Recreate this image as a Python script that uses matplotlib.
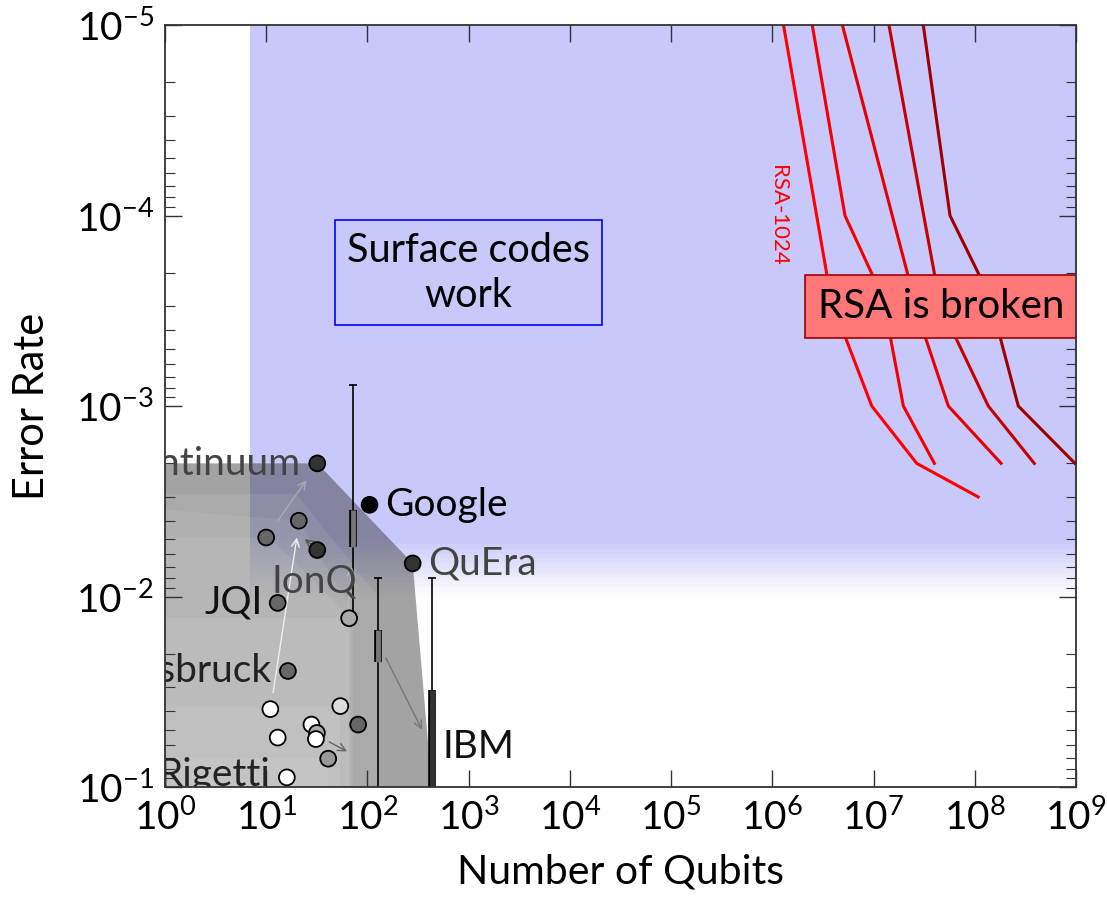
"""Quantum hardware progress vs. the qubit/error budget needed to break RSA."""
import matplotlib
matplotlib.use("Agg")
import matplotlib.patheffects as pe
import matplotlib.pyplot as plt

plt.rcParams["font.family"] = ["Lato", "DejaVu Sans"]
plt.rcParams["mathtext.fontset"] = "custom"
plt.rcParams["mathtext.rm"] = "Lato"
plt.rcParams["mathtext.it"] = "Lato:italic"

# --- data -----------------------------------------------------------------
X_TICKS = [1e0, 1e1, 1e2, 1e3, 1e4, 1e5, 1e6, 1e7, 1e8, 1e9]
X_TICK_LABELS = ["$10^{0}$", "$10^{1}$", "$10^{2}$", "$10^{3}$", "$10^{4}$",
                 "$10^{5}$", "$10^{6}$", "$10^{7}$", "$10^{8}$", "$10^{9}$"]
Y_TICKS = [1e-5, 1e-4, 1e-3, 1e-2, 1e-1]
Y_TICK_LABELS = ["$10^{-5}$", "$10^{-4}$", "$10^{-3}$", "$10^{-2}$", "$10^{-1}$"]

# region where surface codes work
SURFACE_MIN_QUBITS = 7
SURFACE_THRESHOLD = 5e-3
SURFACE_FADE_END = 1e-2

# device data points (qubits, error rate, fill colour)
DEV_QUBITS = [32, 105, 280, 10, 21, 32, 13, 66, 16.4, 11, 54, 81, 28, 31.7, 31, 13, 41, 16]
DEV_ERRORS = [2e-3, 3.3e-3, 6.7e-3, 4.9e-3, 4.0e-3, 5.7e-3, 1.08e-2, 1.3e-2, 2.46e-2,
              3.9e-2, 3.76e-2, 4.7e-2, 4.7e-2, 5.2e-2, 5.6e-2, 5.5e-2, 7.1e-2, 8.9e-2]
DEV_COLORS = ["#333333", "#000000", "#333333", "#666666", "#666666", "#333333",
              "#666666", "#aaaaaa", "#666666", "#ffffff", "#dddddd", "#666666",
              "#ffffff", "#aaaaaa", "#ffffff", "#ffffff", "#999999", "#ffffff"]

# company labels: anchor point and text colour
LABELS = ["Quantinuum", "Google", "QuEra", "IonQ", "JQI", "Innsbruck", "Rigetti", "IBM"]
LABEL_QUBITS = [32, 105, 280, 32, 13, 16.4, 16, 433]
LABEL_ERRORS = [2e-3, 3.3e-3, 6.7e-3, 5.7e-3, 1.08e-2, 2.46e-2, 8.9e-2, 6.2e-2]
LABEL_COLORS = ["#444444", "#000000", "#444444", "#444444", "#111111", "#222222",
                "#222222", "#111111"]

# box-and-whisker summaries (qubits, whisker top, whisker bottom, box top, box bottom)
BOX_QUBITS = [72, 127, 433]
BOX_WHISK_TOP = [7.8e-4, 8e-3, 8e-3]
BOX_WHISK_BOT = [1.3e-2, 1e-1, 1e-1]
BOX_TOP = [3.5e-3, 1.5e-2, 3.1e-2]
BOX_BOT = [5.5e-3, 2.2e-2, 1e-1]
BOX_COLORS = ["#777777", "#777777", "#333333"]

# progress arrows (from -> to)
ARROW_FROM = [(13, 4.0e-3), (11.7, 3.2e-2), (32, 5.6e-3), (54, 3.1e-2), (152, 2.1e-2), (42, 5.8e-2)]
ARROW_TO = [(25, 2.45e-3), (20.1, 4.9e-3), (24, 5.0e-3), (70, 7.0e-3), (346, 5.0e-2), (63, 6.5e-2)]
ARROW_COLORS = ["#aaaaaa", "#eeeeee", "#555555", "#bbbbbb", "#777777", "#666666"]

# pareto frontiers of hardware over time (newest first)
FRONTIERS = [
    [(1, 2e-3), (32, 2e-3), (280, 6.7e-3), (433, 1e-1)],
    [(1, 2.9e-3), (20, 2.9e-3), (127, 1e-2), (127, 1e-1)],
    [(1, 3.5e-3), (21, 4e-3), (72, 1.2e-2), (72, 1e-1)],
    [(1, 4.9e-3), (11, 4.9e-3), (68, 1.3e-2), (68, 1e-1)],
    [(1, 1.3e-2), (66, 1.3e-2), (66, 1e-1)],
    [(1, 3.8e-2), (54, 3.8e-2), (54, 1e-1)],
    [(1, 7e-2), (41, 7e-2), (41, 1e-1)],
]

# qubits needed to break RSA at each error rate
RSA_ERRORS = [1e-5, 1e-4, 2.1e-4, 4.3e-4, 1e-3, 2e-3, 3e-3]
RSA_QUBITS = [
    [1.29e6, 2.74e6, 3.49e6, 5.22e6, 9.6e6, 2.67e7, 1.08e8],
    [2.48e6, 5.22e6, 9.95e6, 1.46e7, 1.97e7, 3.99e7],
    [4.92e6, 1.53e7, 2.21e7, 3.22e7, 5.48e7, 1.82e8],
    [1.42e7, 3.13e7, 4.05e7, 6.38e7, 1.36e8, 3.87e8],
    [3.10e7, 5.69e7, 1.13e8, 1.77e8, 2.69e8, 9.77e8],
]
RSA_COLORS = ["#ff0000", "#f50000", "#e80000", "#c40000", "#a00000"]


def main():
    fig = plt.figure(figsize=(11.07, 8.97), dpi=100)
    ax = fig.add_axes([0.149, 0.1226, 0.823, 0.8495])
    ax.set_xscale("log")
    ax.set_yscale("log")
    ax.set_xlim(1, 1e9)
    ax.set_ylim(1e-1, 1e-5)

    blue = "#c8c8fa"
    ax.fill_between([SURFACE_MIN_QUBITS, 1e10], 1e-6, SURFACE_THRESHOLD,
                    color=blue, lw=0, zorder=0)
    n = 12
    ratio = SURFACE_FADE_END / SURFACE_THRESHOLD
    for i in range(n):
        y0 = SURFACE_THRESHOLD * ratio ** (i / n)
        y1 = SURFACE_THRESHOLD * ratio ** ((i + 1) / n)
        ax.fill_between([SURFACE_MIN_QUBITS, 1e10], y0, y1, color=blue,
                        alpha=1 - (i + 0.5) / n, lw=0, zorder=0)

    for i, front in enumerate(FRONTIERS):
        xs = [0.5] + [p[0] for p in front] + [front[-1][0], 0.5]
        ys = [front[0][1]] + [p[1] for p in front] + [0.2, 0.2]
        if i == 0:
            ax.fill(xs, ys, color="#333333", alpha=0.45, lw=0, zorder=1)
        else:
            ax.fill(xs, ys, color="#ffffff", alpha=0.08, lw=0, zorder=1)

    for q, qs in enumerate(RSA_QUBITS):
        ax.plot(qs, RSA_ERRORS[:len(qs)], color=RSA_COLORS[q], lw=2.2,
                zorder=3, solid_joinstyle="miter")
    ax.text(1.14e6, 1e-4, "RSA-1024", color="#ff0000", fontsize=16,
            rotation=-90, ha="center", va="center", zorder=3)

    for x, wt, wb, bt, bb, c in zip(BOX_QUBITS, BOX_WHISK_TOP, BOX_WHISK_BOT,
                                    BOX_TOP, BOX_BOT, BOX_COLORS):
        ax.plot([x, x], [wt, wb], color="black", lw=1.2, zorder=4)
        ax.plot([x], [wt], marker="_", ms=6, mew=1.2, color="black", zorder=4)
        ax.plot([x, x], [bt, bb], color=c, lw=3.5, solid_capstyle="butt", zorder=4,
                path_effects=[pe.Stroke(linewidth=5.5, foreground="black",
                                        capstyle="butt"), pe.Normal()])

    for (x0, y0), (x1, y1), c in zip(ARROW_FROM, ARROW_TO, ARROW_COLORS):
        ax.annotate("", xy=(x1, y1), xytext=(x0, y0), zorder=4,
                    arrowprops=dict(arrowstyle="->", color=c, lw=1.0,
                                    shrinkA=0, shrinkB=0, mutation_scale=14))

    ax.scatter(DEV_QUBITS, DEV_ERRORS, s=130, c=DEV_COLORS, edgecolors="black",
               linewidths=1.3, zorder=5)

    offsets = {"Quantinuum": (-12, 0, "right"), "Google": (11, 0, "left"),
               "QuEra": (11, 0, "left"), "IonQ": (-2, -23, "center"),
               "JQI": (-11, 0, "right"), "Innsbruck": (-12, 0, "right"),
               "Rigetti": (-12, 2, "right"), "IBM": (8, 0, "left")}
    for name, x, y, c in zip(LABELS, LABEL_QUBITS, LABEL_ERRORS, LABEL_COLORS):
        dx, dy, ha = offsets[name]
        ax.annotate(name, (x, y), xytext=(dx, dy), textcoords="offset points",
                    ha=ha, va="center", fontsize=28, color=c, zorder=6,
                    annotation_clip=False, clip_on=True)

    ax.text(1000, 2e-4, "Surface codes\nwork", fontsize=28.5, ha="center",
            va="center", linespacing=1.25, zorder=6,
            bbox=dict(boxstyle="square,pad=0.3", fc="none", ec="#0000ff", lw=1.2))
    ax.text(2.85e6, 3.0e-4, "RSA is broken", fontsize=29, ha="left", va="center",
            zorder=6, clip_on=True,
            bbox=dict(boxstyle="square,pad=0.32", fc="#ff7777", ec="#a00000", lw=1.2))

    ax.set_xticks(X_TICKS)
    ax.set_xticklabels(X_TICK_LABELS)
    ax.set_yticks(Y_TICKS)
    ax.set_yticklabels(Y_TICK_LABELS)
    ax.tick_params(which="both", direction="in", top=True, right=True,
                   labelsize=28, color="#333333")
    ax.tick_params(which="major", length=12, width=1.0, pad=8)
    ax.tick_params(which="minor", length=7, width=0.8)
    for s in ax.spines.values():
        s.set_color("#333333")
        s.set_linewidth(1.3)
        s.set_zorder(7)

    ax.set_xlabel("Number of Qubits", fontsize=29.5, labelpad=12)
    ax.set_ylabel("Error Rate", fontsize=30, labelpad=18)

    fig.savefig("out.png", dpi=100)
    plt.close(fig)


if __name__ == "__main__":
    main()
